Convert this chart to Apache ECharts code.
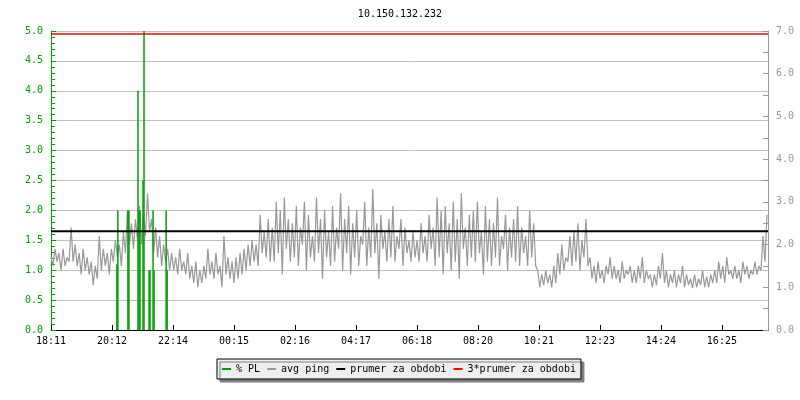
<!DOCTYPE html>
<html>
<head>
<meta charset="utf-8">
<script src="https://cdn.jsdelivr.net/npm/echarts@6/dist/echarts.min.js"></script>
<style>
  html, body { margin: 0; padding: 0; background: #fff; }
  #chart { width: 800px; height: 400px; }
</style>
</head>
<body>
<div id="chart"></div>
<script>
  // x axis: minutes since 18:11
  const tickLabels = ['18:11', '20:12', '22:14', '00:15', '02:16', '04:17', '06:18', '08:20', '10:21', '12:23', '14:24', '16:25']
  const TICK_STEP = 121.3
  const X_MAX = 1426
  const PING_STEP = 4

  // avg ping (right axis), one value every 4 minutes
  const pingValues = [
    1.7,1.5,1.9,1.6,1.8,1.4,1.9,1.5,1.7,1.6,
    2.4,1.6,2.0,1.5,1.8,1.3,1.9,1.4,1.7,1.3,
    1.6,1.05,1.5,1.2,2.2,1.4,1.9,1.5,1.8,1.3,
    1.9,1.6,2.1,1.7,2.0,1.5,2.3,1.8,2.8,2.0,
    2.5,1.9,2.6,2.1,2.9,2.0,2.7,2.2,3.2,2.3,
    2.6,1.8,2.4,1.7,2.2,1.5,2.0,1.6,1.9,1.4,
    1.8,1.4,1.7,1.3,1.9,1.4,1.6,1.3,1.8,1.2,
    1.5,1.1,1.6,1.0,1.4,1.1,1.5,1.2,1.9,1.3,
    1.6,1.2,1.8,1.3,1.5,1.0,2.2,1.3,1.7,1.2,
    1.6,1.1,1.7,1.2,1.8,1.3,1.9,1.4,2.0,1.5,
    2.1,1.6,2.0,1.5,2.7,1.8,2.3,1.7,2.6,1.6,
    2.4,1.6,3.0,1.8,2.8,1.3,3.1,1.9,2.6,1.6,
    2.5,1.7,2.9,1.5,2.4,2.0,3.0,1.4,2.7,1.7,
    2.2,1.6,3.1,1.8,2.6,1.2,2.8,1.7,2.3,1.5,
    2.9,1.6,2.4,1.9,3.2,1.4,2.6,1.8,2.9,1.3,
    2.5,1.7,2.8,1.5,2.2,2.0,3.0,1.5,2.4,1.7,
    3.3,1.8,2.5,1.2,2.7,1.9,2.3,1.6,2.6,1.7,
    2.9,1.6,2.2,1.9,2.6,1.5,2.4,1.8,2.1,1.6,
    2.3,1.7,2.1,1.6,2.5,1.8,2.2,1.6,2.7,1.9,
    2.4,1.5,3.1,1.7,2.8,1.3,2.9,1.8,2.5,1.4,
    3.0,1.6,2.6,1.2,3.2,1.9,2.4,1.5,2.7,1.7,
    2.8,1.6,3.0,1.8,2.3,1.3,2.9,1.6,2.6,1.5,
    2.5,1.7,3.1,1.5,2.2,1.9,2.7,1.4,2.4,1.7,
    2.6,1.6,2.9,1.5,2.4,1.8,2.2,1.5,2.8,1.7,
    2.5,1.5,1.4,1.0,1.3,1.05,1.4,1.1,1.3,1.0,
    1.5,1.1,1.8,1.3,2.0,1.4,1.7,1.6,2.2,1.5,
    2.3,1.6,2.5,1.4,2.1,1.7,2.6,1.5,1.7,1.2,
    1.5,1.1,1.6,1.2,1.4,1.1,1.5,1.3,1.7,1.2,
    1.5,1.2,1.4,1.1,1.6,1.2,1.4,1.3,1.5,1.1,
    1.4,1.1,1.5,1.2,1.7,1.1,1.4,1.2,1.3,1.0,
    1.3,1.05,1.5,1.2,1.8,1.1,1.4,1.0,1.3,1.1,
    1.4,1.0,1.3,1.1,1.5,1.0,1.3,1.05,1.2,0.98,
    1.3,1.0,1.2,1.05,1.4,1.0,1.25,1.0,1.3,1.1,
    1.4,1.1,1.6,1.2,1.5,1.1,1.7,1.3,1.4,1.2,
    1.5,1.2,1.4,1.1,1.6,1.3,1.5,1.2,1.4,1.3,
    1.6,1.3,1.5,1.4,2.2,1.6,2.7
  ]

  // % packet loss (left axis)
  const plTimes = [131, 133, 153, 155, 173, 175, 177, 183, 185, 195, 197, 203, 205, 229, 231]
  const plValues = [1.1, 2.0, 2.0, 2.0, 4.0, 2.0, 2.0, 2.5, 5.0, 1.0, 1.0, 2.0, 1.0, 2.0, 1.0]

  const avgPing = 2.31
  const tripleAvgPing = 6.93

  const font = 'DejaVu Sans Mono'

  let myChart = echarts.init(document.getElementById('chart'))

  let option = {
    animation: false,
    title: {
      text: '10.150.132.232',
      left: 'center',
      top: 4,
      textStyle: { color: '#000', fontSize: 10, fontWeight: 'normal', fontFamily: font }
    },
    legend: {
      left: 217,
      top: 359,
      padding: [4, 5, 4, 5],
      itemGap: 7,
      itemWidth: 9,
      itemHeight: 2,
      icon: 'rect',
      backgroundColor: '#eeeeee',
      borderColor: '#000',
      borderWidth: 1,
      shadowColor: '#808080',
      shadowBlur: 0,
      shadowOffsetX: 3,
      shadowOffsetY: 3,
      textStyle: { color: '#000', fontSize: 10, fontFamily: font, lineHeight: 12 },
      data: ['% PL', 'avg ping', 'prumer za obdobi', '3*prumer za obdobi']
    },
    grid: {
      left: 51,
      right: 32,
      top: 31,
      bottom: 70,
      containLabel: false
    },
    xAxis: {
      type: 'value',
      min: 0,
      max: X_MAX,
      interval: TICK_STEP,
      splitLine: { show: false },
      axisLine: { lineStyle: { color: '#000', width: 1 } },
      axisTick: { inside: true, length: 5, lineStyle: { color: '#000' } },
      axisLabel: {
        margin: 6,
        color: '#000',
        fontSize: 10,
        fontFamily: font,
        showMaxLabel: false,
        formatter: (val) => {
          let idx = Math.round(val / TICK_STEP)
          if (Math.abs(val - idx * TICK_STEP) > 0.01 || idx >= tickLabels.length) return ''
          return tickLabels[idx]
        }
      }
    },
    yAxis: [{
      type: 'value',
      min: 0,
      max: 5,
      interval: 0.5,
      axisLine: { show: true, lineStyle: { color: '#00a000' } },
      axisTick: { show: true, inside: true, length: 5, lineStyle: { color: '#00a000' } },
      minorTick: { show: true, splitNumber: 5, length: 4, lineStyle: { color: '#00a000' } },
      splitLine: { show: true, lineStyle: { color: '#c0c0c0', width: 1 } },
      axisLabel: {
        margin: 8,
        color: '#00a000',
        fontSize: 10,
        fontFamily: font,
        formatter: (val) => val.toFixed(1)
      }
    }, {
      type: 'value',
      min: 0,
      max: 7,
      interval: 0.5,
      axisLine: { show: true, lineStyle: { color: '#999' } },
      axisTick: { show: true, inside: true, length: 5, lineStyle: { color: '#999' } },
      splitLine: { show: false },
      axisLabel: {
        margin: 8,
        color: '#999',
        fontSize: 10,
        fontFamily: font,
        formatter: (val) => (Math.abs(val - Math.round(val)) < 0.001 ? val.toFixed(1) : '')
      }
    }],
    series: []
  }

  let pingData = pingValues.map((v, i) => [i * PING_STEP, v])
  let plData = plTimes.map((t, i) => [t, plValues[i]])

  option.series = [{
    name: 'avg ping',
    type: 'line',
    yAxisIndex: 1,
    data: pingData,
    symbol: 'none',
    color: '#999999',
    lineStyle: { color: '#999999', width: 1.2 },
    z: 2
  }, {
    name: '% PL',
    type: 'bar',
    yAxisIndex: 0,
    data: plData,
    barWidth: 1.5,
    color: '#00a000',
    itemStyle: { color: '#00a000' },
    z: 3
  }, {
    name: 'prumer za obdobi',
    type: 'line',
    yAxisIndex: 1,
    data: [[0, avgPing], [X_MAX, avgPing]],
    symbol: 'none',
    color: '#000',
    lineStyle: { color: '#000', width: 2 },
    z: 4
  }, {
    name: '3*prumer za obdobi',
    type: 'line',
    yAxisIndex: 1,
    data: [[0, tripleAvgPing], [X_MAX, tripleAvgPing]],
    symbol: 'none',
    color: '#ff0000',
    lineStyle: { color: '#ff0000', width: 1.5 },
    z: 4
  }]

  myChart.setOption(option, true)
</script>
</body>
</html>
